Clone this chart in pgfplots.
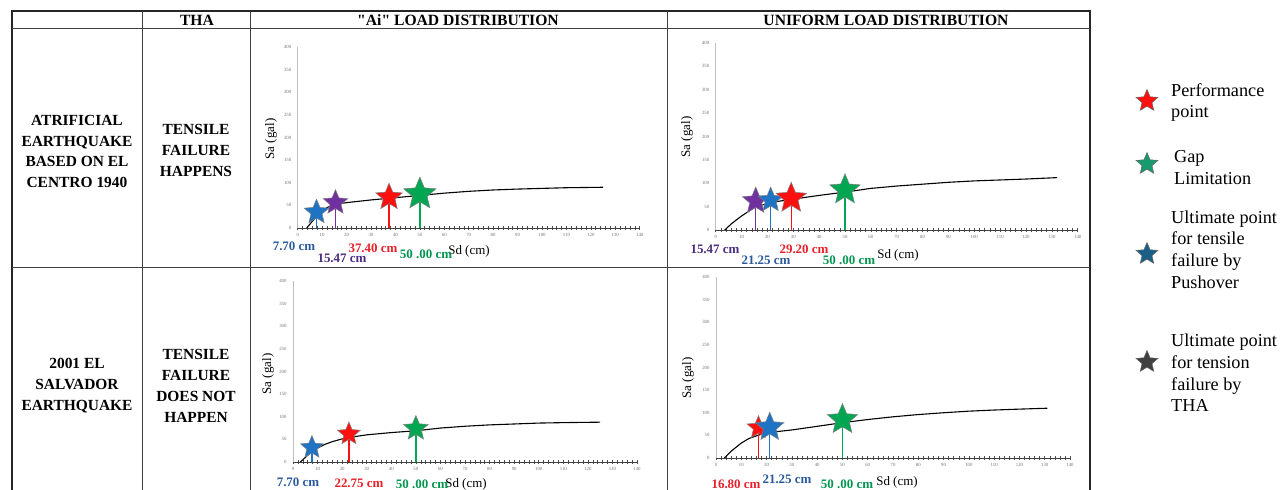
\documentclass[border=0pt]{standalone}
\usepackage{fontspec}
\setmainfont{Liberation Serif}[Ligatures=TeXOff]
\usepackage{pgfplots}
\pgfplotsset{compat=1.18}
\usetikzlibrary{shapes.geometric}

\definecolor{sblue}{HTML}{1F73C4}
\definecolor{spurple}{HTML}{7030A0}
\definecolor{sred}{HTML}{FF1010}
\definecolor{sgreen}{HTML}{00A651}
\definecolor{tblue}{HTML}{2A5A9C}
\definecolor{tpurple}{HTML}{4A2C80}
\definecolor{tred}{HTML}{E8202A}
\definecolor{tgreen}{HTML}{00954F}
\definecolor{lgteal}{HTML}{169A6E}
\definecolor{lgblue}{HTML}{1B5E86}

\pgfdeclareplotmark{fstar}{%
  \pgfpathmoveto{\pgfpointpolar{90}{\pgfplotmarksize}}%
  \pgfpathlineto{\pgfpointpolar{126}{0.45*\pgfplotmarksize}}%
  \pgfpathlineto{\pgfpointpolar{162}{\pgfplotmarksize}}%
  \pgfpathlineto{\pgfpointpolar{198}{0.45*\pgfplotmarksize}}%
  \pgfpathlineto{\pgfpointpolar{234}{\pgfplotmarksize}}%
  \pgfpathlineto{\pgfpointpolar{270}{0.45*\pgfplotmarksize}}%
  \pgfpathlineto{\pgfpointpolar{306}{\pgfplotmarksize}}%
  \pgfpathlineto{\pgfpointpolar{342}{0.45*\pgfplotmarksize}}%
  \pgfpathlineto{\pgfpointpolar{18}{\pgfplotmarksize}}%
  \pgfpathlineto{\pgfpointpolar{54}{0.45*\pgfplotmarksize}}%
  \pgfpathclose
  \pgfusepathqfillstroke}

\pgfplotsset{
  sdstyle/.style={
    scale only axis, anchor=south west,
    xmin=0, xmax=140, ymin=0, ymax=400,
    axis x line=bottom, axis y line=left,
    axis line style={-},
    x axis line style={black!75, line width=0.8bp},
    y axis line style={black!25, line width=0.5bp},
    xtick={0,10,...,140}, ytick={0,50,...,400},
    minor x tick num=4,
    xtick align=center,
    major tick length=4bp, minor tick length=3.5bp,
    x tick style={black!70, line width=0.5bp},
    minor x tick style={black!70, line width=0.5bp},
    y tick style={draw=none},
    tick label style={font=\fontsize{4.8}{5}\selectfont, text=black!55},
    /pgf/number format/assume math mode=true,
    xticklabel style={yshift=0.5bp},
    yticklabel style={xshift=-1bp},
    clip=false,
  },
  curve/.style={black, line width=1.1bp, mark=none},
  stemstar/.style n args={2}{ycomb, draw=#1, line width=1.3bp, mark=fstar,
    mark size=#2, mark options={solid, fill=#1, draw=black!50, line width=0.5bp}},
}

\begin{document}
\begin{tikzpicture}
\begin{scope}[x=1bp,y=1bp]
\useasboundingbox (0,0) rectangle (1282,490);

% ---------- table grid ----------
\draw[black!85, line width=1.8bp] (12,-5) -- (12,479) -- (1090,479) -- (1090,-5);
\draw[black!75, line width=1bp] (12,461) -- (1090,461);
\draw[black!75, line width=1bp] (12,222) -- (1090,222);
\foreach \xx in {142,250,667} \draw[black!75, line width=1bp] (\xx,-5) -- (\xx,479);

% ---------- header ----------
\begin{scope}[every node/.style={font=\fontsize{15.7}{17}\selectfont\bfseries, inner sep=0pt}]
\node at (197,469.5) {THA};
\node at (458,469.5) {"Ai" LOAD DISTRIBUTION};
\node at (886,469.5) {UNIFORM LOAD DISTRIBUTION};
\end{scope}

% ---------- row texts ----------
\begin{scope}[every node/.style={font=\fontsize{15.5}{21}\selectfont\bfseries, align=center, inner sep=0pt}]
\node at (77,338.5) {ATRIFICIAL\\EARTHQUAKE\\BASED ON EL\\CENTRO 1940};
\node at (196,339.5) {TENSILE\\FAILURE\\HAPPENS};
\node at (77,104) {2001 EL\\SALVADOR\\EARTHQUAKE};
\node at (196,104) {TENSILE\\FAILURE\\DOES NOT\\HAPPEN};
\end{scope}

% ---------- axis titles ----------
\begin{scope}[every node/.style={font=\fontsize{13}{14}\selectfont, inner sep=0pt}]
\node[rotate=90] at (271,351) {Sa (gal)};
\node[rotate=90] at (687,353) {Sa (gal)};
\node[rotate=90] at (268,116) {Sa (gal)};
\node[rotate=90] at (688,112) {Sa (gal)};
\node at (469,239) {Sd (cm)};
\node at (898,235) {Sd (cm)};
\node at (466,6) {Sd (cm)};
\node at (897,8) {Sd (cm)};
\end{scope}

% ---------- value labels ----------
\begin{scope}[every node/.style={font=\fontsize{13}{14}\selectfont\bfseries, inner sep=0pt}]
\node[text=tblue] at (294,244) {7.70 cm};
\node[text=tpurple] at (342,232) {15.47 cm};
\node[text=tred] at (373,242) {37.40 cm};
\node[text=tgreen] at (426,236) {50 .00 cm};

\node[text=tpurple] at (715,241) {15.47 cm};
\node[text=tblue] at (766,230) {21.25 cm};
\node[text=tred] at (804,241) {29.20 cm};
\node[text=tgreen] at (849,230) {50 .00 cm};

\node[text=tblue] at (298,8) {7.70 cm};
\node[text=tred] at (359,7) {22.75 cm};
\node[text=tgreen] at (422,5.5) {50 .00 cm};

\node[text=tred] at (736,5.5) {16.80 cm};
\node[text=tblue] at (787,11) {21.25 cm};
\node[text=tgreen] at (847,5.5) {50 .00 cm};
\end{scope}

% ---------- legend ----------
\begin{scope}[every node/.style={font=\fontsize{18.3}{21.8}\selectfont, align=left, anchor=west, inner sep=0pt}]
\node at (1171,387.5) {Performance\\point};
\node at (1174,322.5) {Gap\\Limitation};
\node at (1171,240.5) {Ultimate point\\for tensile\\failure by\\Pushover};
\node at (1171,117) {Ultimate point\\for tension\\failure by\\THA};
\end{scope}
\begin{scope}[every node/.style={star, star points=5, star point ratio=2.2, minimum size=23bp, inner sep=0pt, draw=black!60, line width=0.5bp}]
\node[fill=sred] at (1147,389) {};
\node[fill=lgteal] at (1147,326) {};
\node[fill=lgblue] at (1147,236) {};
\node[fill=black!75] at (1147,128) {};
\end{scope}
\end{scope}

% ---------- chart 1 : Ai, artificial ----------
\begin{axis}[sdstyle, at={(297.7bp,262bp)}, width=342bp, height=181bp]
\addplot[curve] coordinates {(3.7,0) (6,15) (9,32) (12,45) (15,52) (20,56) (30,62) (40,67) (50,72) (60,77) (70,81) (80,84) (90,86) (100,87.5) (110,89) (125,90)};
\addplot[stemstar={sblue}{13bp}] coordinates {(7.7,35)};
\addplot[stemstar={spurple}{13bp}] coordinates {(15.47,56)};
\addplot[stemstar={sred}{14bp}] coordinates {(37.4,68)};
\addplot[stemstar={sgreen}{17bp}] coordinates {(50,75)};
\end{axis}

% ---------- chart 2 : uniform, artificial ----------
\begin{axis}[sdstyle, at={(715.7bp,260bp)}, width=362bp, height=187bp]
\addplot[curve] coordinates {(3.5,0) (6,13) (10,30) (15,48) (20,57) (25,62) (30,66) (40,74) (50,81) (60,89) (70,94) (80,98) (90,102) (100,105) (110,107) (120,109) (132,112)};
\addplot[stemstar={spurple}{14bp}] coordinates {(15.47,62)};
\addplot[stemstar={sblue}{13bp}] coordinates {(21.25,64)};
\addplot[stemstar={sred}{16bp}] coordinates {(29.2,68)};
\addplot[stemstar={sgreen}{16bp}] coordinates {(50,86)};
\end{axis}

% ---------- chart 3 : Ai, El Salvador ----------
\begin{axis}[sdstyle, at={(293bp,28bp)}, width=344bp, height=181bp]
\addplot[curve] coordinates {(3,0) (6,15) (9,28) (13,39) (16,45) (20,51) (25,56) (30,60) (40,65) (50,69) (60,75) (70,79) (80,82) (90,84) (100,86) (110,87) (125,88)};
\addplot[stemstar={sblue}{12bp}] coordinates {(7.7,32)};
\addplot[stemstar={sred}{12bp}] coordinates {(22.75,62)};
\addplot[stemstar={sgreen}{13bp}] coordinates {(50,74)};
\end{axis}

% ---------- chart 4 : uniform, El Salvador ----------
\begin{axis}[sdstyle, at={(716bp,32bp)}, width=354bp, height=181bp]
\addplot[curve] coordinates {(3.3,0) (6,15) (10,33) (13,43) (17,51) (22,57) (30,62) (40,70) (50,78) (60,85) (70,91) (80,96) (90,100) (100,103.5) (110,106) (120,108) (131,110)};
\addplot[stemstar={sred}{12bp}] coordinates {(16.8,67)};
\addplot[stemstar={sblue}{15bp}] coordinates {(21.25,68)};
\addplot[stemstar={sgreen}{16bp}] coordinates {(50,85)};
\end{axis}
\end{tikzpicture}
\end{document}
